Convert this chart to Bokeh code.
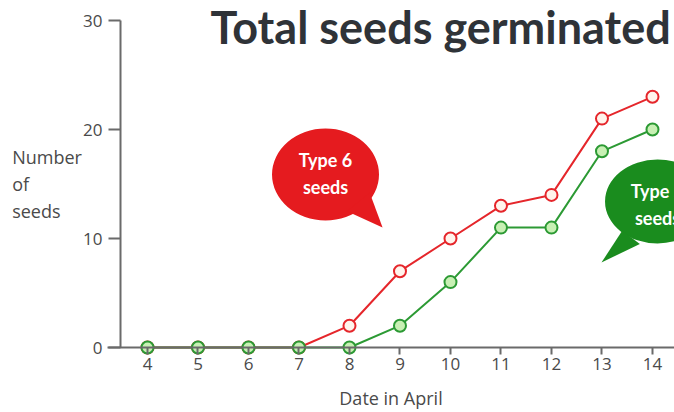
from bokeh.plotting import figure
from bokeh.models import Range1d, LinearAxis, FixedTicker, Label, ColumnDataSource
from bokeh.core.properties import value
from bokeh.embed import file_html
from bokeh.resources import INLINE

days = [4, 5, 6, 7, 8, 9, 10, 11, 12, 13, 14]
type6 = [0, 0, 0, 0, 2, 7, 10, 13, 14, 21, 23]
type_other = [0, 0, 0, 0, 0, 2, 6, 11, 11, 18, 20]
y_ticks = [0, 10, 20, 30]
title_text = "Total seeds germinated"
y_label = "Number\nof\nseeds"
x_label = "Date in April"

p = figure(width=674, height=412, output_backend="svg", toolbar_location=None,
           x_range=Range1d(1.089, 14.436), y_range=Range1d(-5.963, 31.835),
           x_axis_location=None, y_axis_location=None, min_border=0,
           outline_line_color=None)
p.xgrid.visible = False
p.ygrid.visible = False
p.background_fill_color = "white"

AX = "#6a6a6a"
LBL = "#4a4a4a"

xa = LinearAxis(ticker=FixedTicker(ticks=days), fixed_location=0, bounds=(3.21, 14.436))
xa.axis_line_color = AX
xa.axis_line_width = 2
xa.major_tick_line_color = AX
xa.major_tick_line_width = 2
xa.major_tick_in = 0
xa.major_tick_out = 7
xa.minor_tick_line_color = None
xa.major_label_text_font = "Open Sans"
xa.major_label_text_font_size = "17px"
xa.major_label_text_color = LBL
xa.major_label_standoff = 3
xa.axis_label = x_label
xa.axis_label_text_font = "Open Sans"
xa.axis_label_text_font_style = "normal"
xa.axis_label_text_font_size = "18px"
xa.axis_label_text_color = LBL
xa.axis_label_standoff = 13
p.add_layout(xa, "below")

ya = LinearAxis(ticker=FixedTicker(ticks=y_ticks), fixed_location=3.465, bounds=(0, 30))
ya.axis_line_color = AX
ya.axis_line_width = 2
ya.major_tick_line_color = AX
ya.major_tick_line_width = 2
ya.major_tick_in = 0
ya.major_tick_out = 12
ya.minor_tick_line_color = None
ya.major_label_text_font = "Open Sans"
ya.major_label_text_font_size = "17px"
ya.major_label_text_color = LBL
ya.major_label_standoff = 6
p.add_layout(ya, "left")

# y label
p.add_layout(Label(x=1.32, y=18.58, text=y_label, text_font="Open Sans",
                   text_font_size="18px", text_color=LBL, text_baseline="top",
                   text_line_height=1.12))

# title
p.text(x=[5.25], y=[29.36], text=[title_text], text_font=value("Lato"),
       text_font_style="bold", text_font_size="45px", text_color="#2f3338",
       text_align="left", text_baseline="middle")

RED = "#e5262b"
GREEN = "#2c9a34"

# red bubble
p.ellipse(x=[7.525], y=[15.87], width=[107], height=[92], width_units="screen",
          height_units="screen", fill_color="#e51b1f", line_color=None)
p.patch(x=[7.95, 8.4, 8.655], y=[12.5, 14.2, 11.0], fill_color="#e51b1f", line_color=None)
p.text(x=[7.525, 7.525], y=[17.2, 14.7], text=["Type 6", "seeds"], text_font=value("Lato"),
       text_font_style="bold", text_font_size="18px", text_color="white",
       text_align="center", text_baseline="middle")

# green bubble
p.ellipse(x=[14.1], y=[13.4], width=[105], height=[84], width_units="screen",
          height_units="screen", fill_color="#1a8c1e", line_color=None)
p.patch(x=[13.4, 13.75, 12.99], y=[10.7, 9.5, 7.8], fill_color="#1a8c1e", line_color=None)
p.text(x=[14.1, 14.1], y=[14.4, 11.9], text=["Type 5", "seeds"], text_font=value("Lato"),
       text_font_style="bold", text_font_size="18px", text_color="white",
       text_align="center", text_baseline="middle")

src = ColumnDataSource(dict(x=days, r=type6, g=type_other))
p.line("x", "r", source=src, line_color=RED, line_width=2)
p.scatter("x", "r", source=src, size=12, line_color=RED, line_width=2, fill_color="#fff4ec")
p.line("x", "g", source=src, line_color=GREEN, line_width=2)
p.scatter("x", "g", source=src, size=12, line_color=GREEN, line_width=2, fill_color="#c8f0b4")

open("out.html", "w").write(file_html(p, INLINE))
